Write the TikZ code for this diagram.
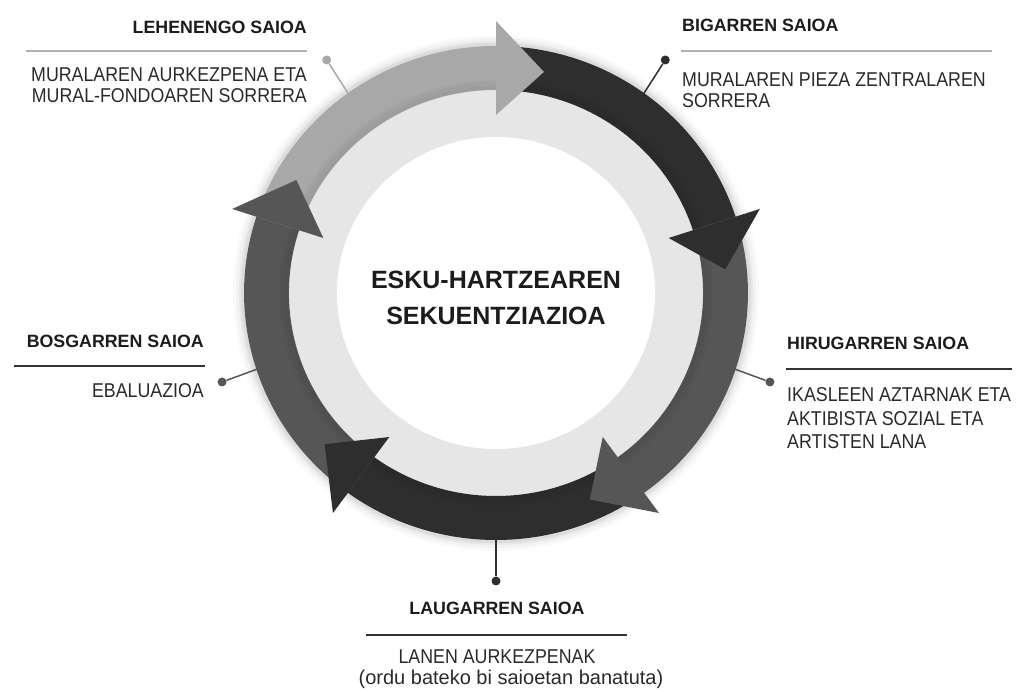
\documentclass[tikz,border=0pt]{standalone}
\usepackage{fontspec}
\setmainfont{Liberation Sans}
\newfontfamily\condfont[FakeStretch=0.89]{Liberation Sans}
\definecolor{segA}{HTML}{A8A8A8}
\definecolor{segB}{HTML}{2E2E2E}
\definecolor{segC}{HTML}{565656}
\definecolor{ringc}{HTML}{E6E6E6}
\definecolor{titlec}{HTML}{1C1C1C}
\definecolor{bodyc}{HTML}{2A2A2A}
\definecolor{rulel}{HTML}{B0B0B0}
\definecolor{ruled}{HTML}{333333}
\begin{document}
\begin{tikzpicture}[x=1pt,y=1pt,
  title/.style={font=\fontsize{17.8}{21}\selectfont\bfseries, text=titlec, inner sep=0pt},
  body/.style={font=\condfont\fontsize{20}{20.5}\selectfont, text=bodyc, inner sep=0pt},
  dotnode/.style={circle, inner sep=0pt, minimum size=9pt},
  rulelight/.style={draw=rulel, line width=1.6pt},
  ruledark/.style={draw=ruled, line width=1.6pt},
  conn/.style={line width=1.5pt}]
\useasboundingbox (0,0) rectangle (1020,691);
\fill[white] (0,0) rectangle (1020,691);
\begin{scope}[shift={(496,398)}]
  \begin{scope}[xscale=1.02]
    % soft outer shadow
    \foreach \r/\o in {258/0.02,255/0.03,252/0.04,250/0.05} {
      \fill[black, opacity=\o] (0,0) circle[radius=\r];
    }
    \fill[ringc] (0,0) circle[radius=210];
    \fill[white] (0,0) circle[radius=156];
    % band bodies
    \foreach \a/\c [evaluate=\a as \b using \a-72] in {162/segA, 90/segB, 18/segC, -54/segB, -126/segC} {
      \fill[\c] (\a:203) arc[start angle=\a, end angle=\b, radius=203]
        -- (\b:247) arc[start angle=\b, end angle=\a, radius=247] -- cycle;
    }
    % inner soft shadow of the band
    \foreach \r/\o in {205/0.07,208/0.05,211/0.03} {
      \draw[black, opacity=\o, line width=3pt] (0,0) circle[radius=\r];
    }
    % arrow heads
    \foreach \a/\c [evaluate=\a as \b using \a-72, evaluate=\a as \t using \a-84] in {162/segA, 90/segB, 18/segC, -54/segB, -126/segC} {
      \fill[\c] (\b:178) -- (\t:226) -- (\b:272) -- cycle;
    }
    \coordinate (r1) at (126:246);
    \coordinate (r2) at (54:246);
    \coordinate (r3) at (-18:246);
    \coordinate (r4) at (-90:246);
    \coordinate (r5) at (198:246);
  \end{scope}
  \node[dotnode, fill=segA] (d1) at (126:288) {};
  \node[dotnode, fill=segB] (d2) at (54:288) {};
  \node[dotnode, fill=segC] (d3) at (-18:288) {};
  \node[dotnode, fill=segB] (d4) at (-90:288) {};
  \node[dotnode, fill=segC] (d5) at (198:288) {};
\end{scope}
\draw[conn, draw=segA] (r1) -- (d1);
\draw[conn, draw=segB] (r2) -- (d2);
\draw[conn, draw=segC] (r3) -- (d3);
\draw[conn, draw=segB] (r4) -- (d4);
\draw[conn, draw=segC] (r5) -- (d5);

\node[anchor=north, align=center, text=titlec, inner sep=0pt,
  font=\fontsize{25}{36}\selectfont\bfseries] (ctr) at (496,420) {ESKU-HARTZEAREN\\SEKUENTZIAZIOA};

% LEHENENGO
\node[title, anchor=north east] (t1) at (307,670.4) {LEHENENGO SAIOA};
\draw[rulelight] (26,640) -- (307,640);
\node[body, anchor=north east, align=right] (b1) at (307,623.2) {MURALAREN AURKEZPENA ETA\\MURAL-FONDOAREN SORRERA};

% BIGARREN
\node[title, anchor=north west] (t2) at (682,672.4) {BIGARREN SAIOA};
\draw[rulelight] (681,640) -- (992,640);
\node[body, anchor=north west, align=left] (b2) at (682,618.2) {MURALAREN PIEZA ZENTRALAREN\\SORRERA};

% HIRUGARREN
\node[title, anchor=north west] (t3) at (787,354.4) {HIRUGARREN SAIOA};
\draw[ruledark] (786,322) -- (1012,322);
\node[body, anchor=north west, align=left, font=\condfont\fontsize{20}{23.5}\selectfont] (b3) at (787,303.2) {IKASLEEN AZTARNAK ETA\\AKTIBISTA SOZIAL ETA\\ARTISTEN LANA};

% LAUGARREN
\node[title, anchor=north] (t4) at (497,89.4) {LAUGARREN SAIOA};
\draw[ruledark] (366,56) -- (627,56);
\node[body, anchor=north] (b4) at (497,41.2) {LANEN AURKEZPENAK};
\node[body, anchor=base, font=\fontsize{20}{24}\selectfont] (b4b) at (511,7) {(ordu bateko bi saioetan banatuta)};

% BOSGARREN
\node[title, anchor=north east] (t5) at (204,356.4) {BOSGARREN SAIOA};
\draw[ruledark] (14,325) -- (205,325);
\node[body, anchor=north east] (b5) at (204,307.2) {EBALUAZIOA};
\end{tikzpicture}
\end{document}
